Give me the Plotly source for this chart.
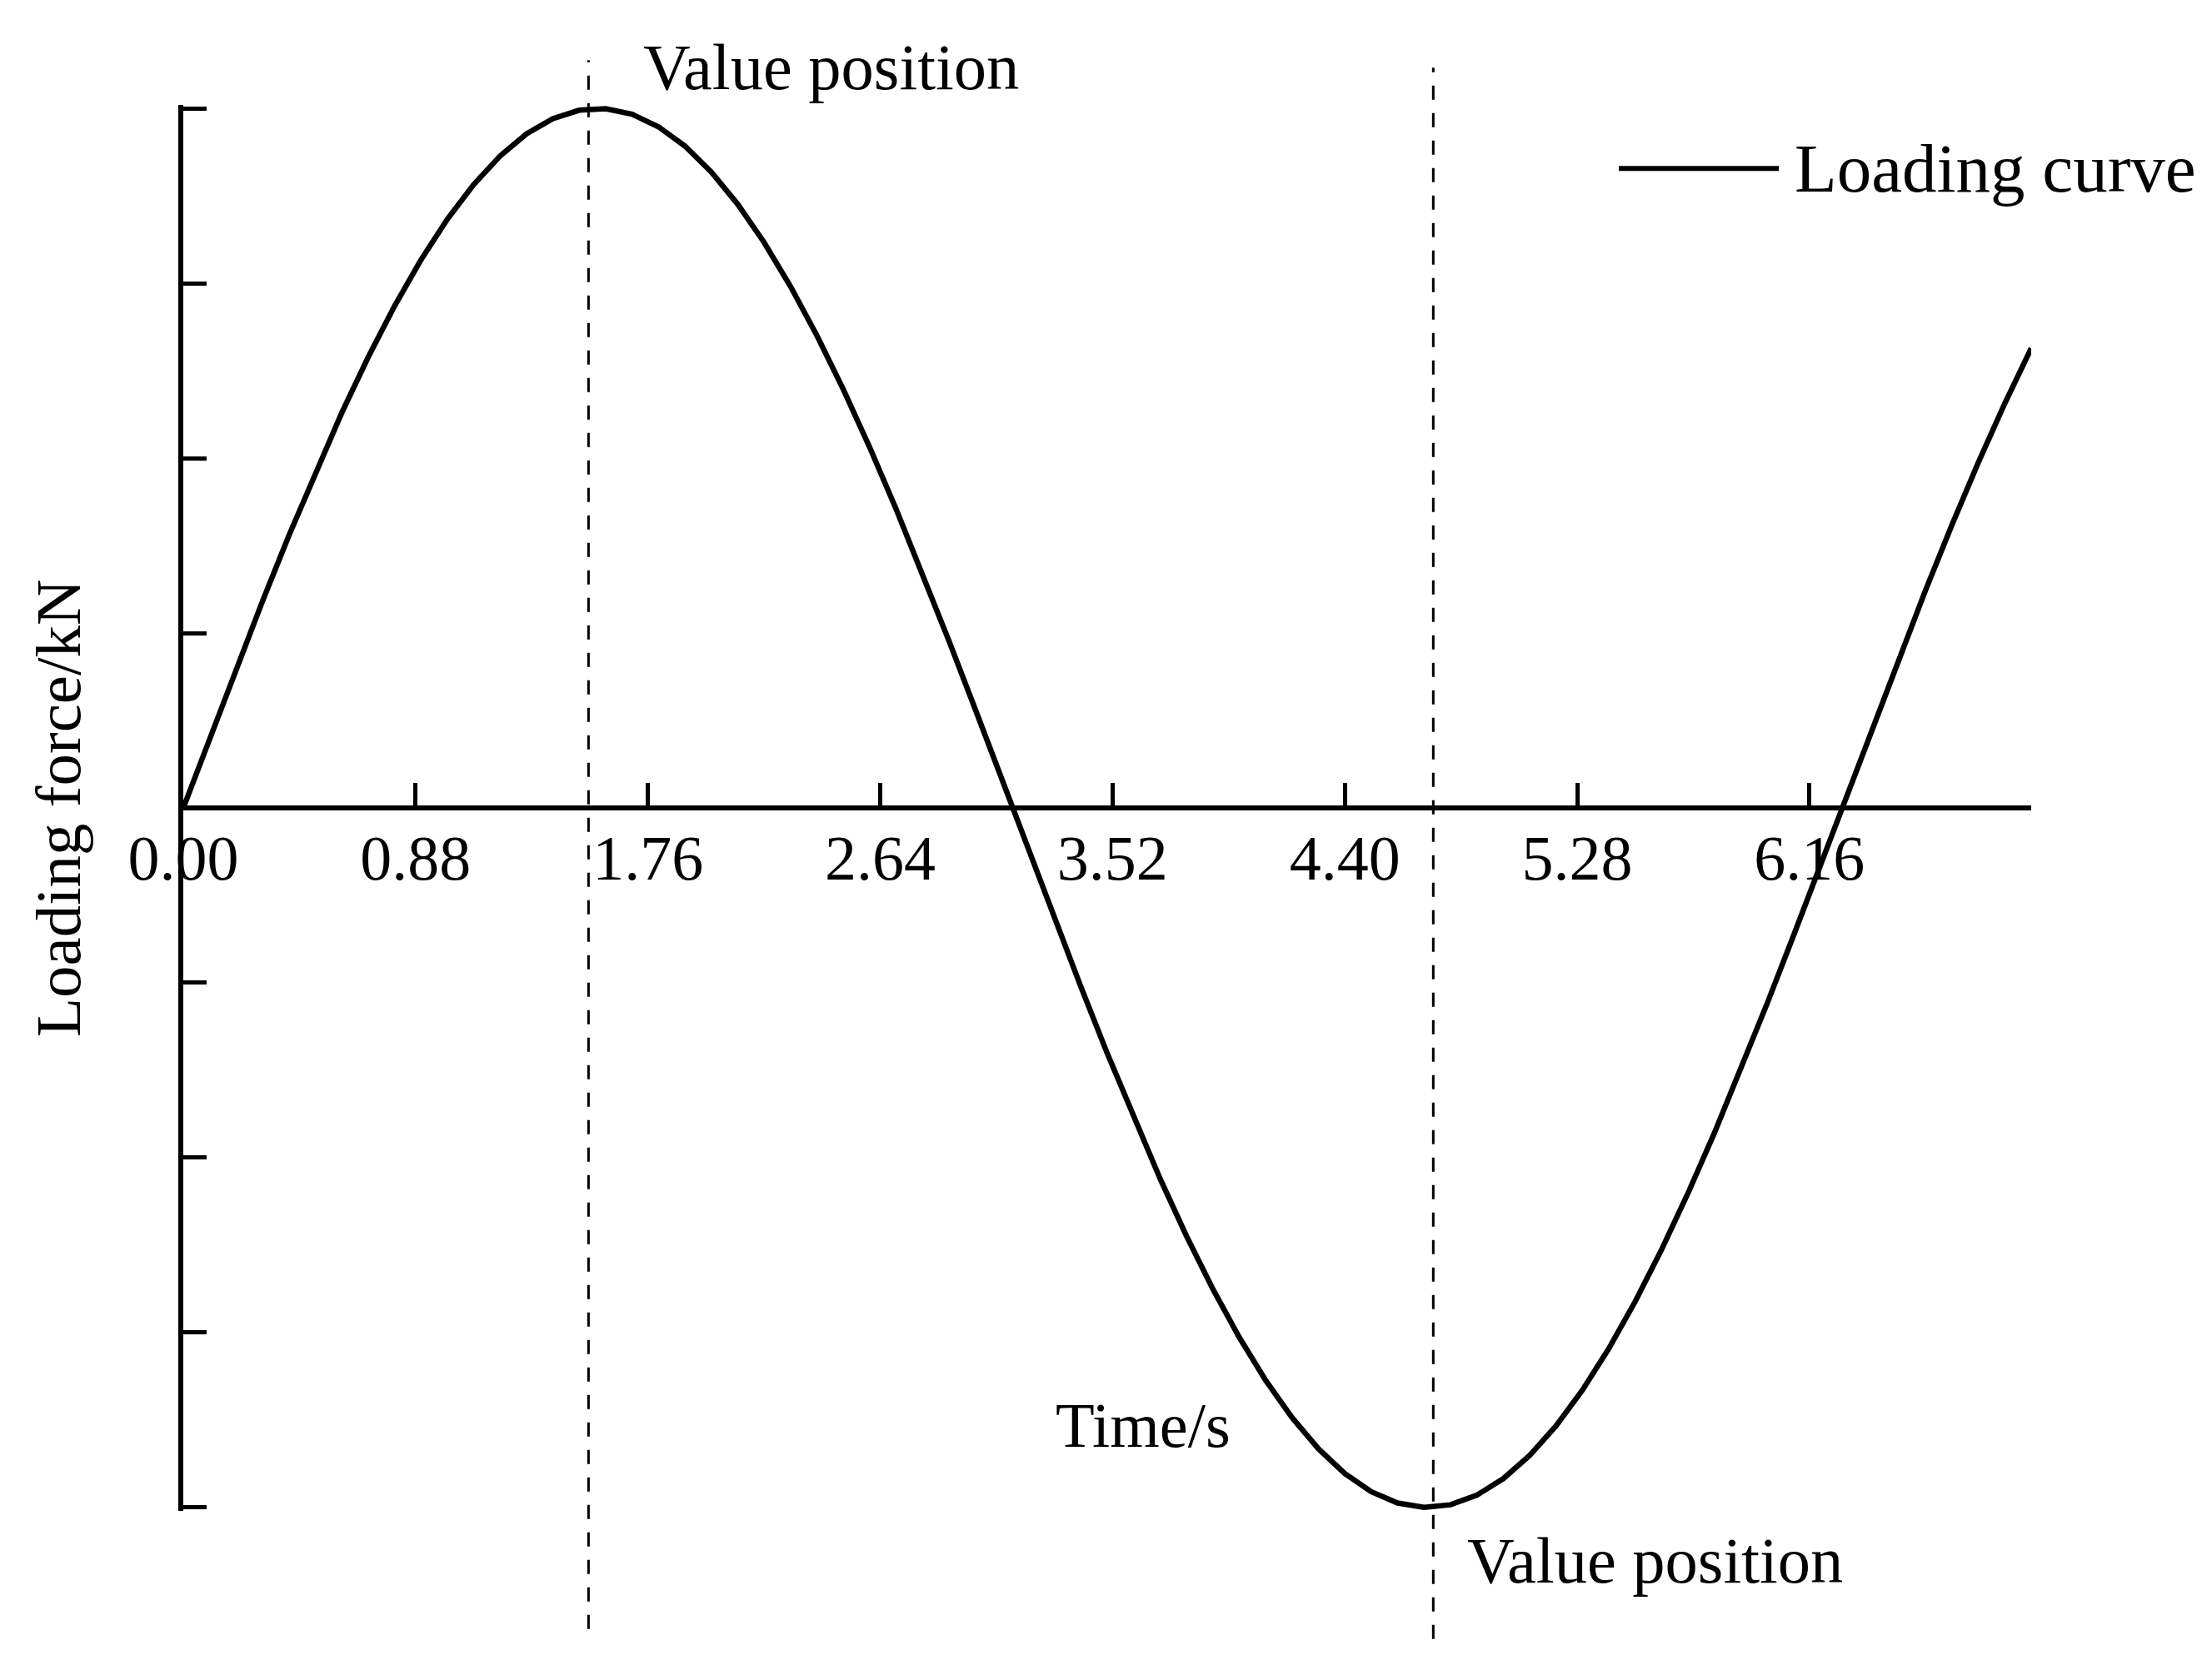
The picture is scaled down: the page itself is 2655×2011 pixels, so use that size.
import plotly.graph_objects as go

# ---- data ----
time_s = [0.0, 0.1, 0.2, 0.3, 0.4, 0.5, 0.6, 0.7, 0.8, 0.9,
          1.0, 1.1, 1.2, 1.3, 1.4, 1.5, 1.6, 1.7, 1.8, 1.9,
          2.0, 2.1, 2.2, 2.3, 2.4, 2.5, 2.6, 2.7, 2.8, 2.9,
          3.0, 3.1, 3.2, 3.3, 3.4, 3.5, 3.6, 3.7, 3.8, 3.9,
          4.0, 4.1, 4.2, 4.3, 4.4, 4.5, 4.6, 4.7, 4.8, 4.9,
          5.0, 5.1, 5.2, 5.3, 5.4, 5.5, 5.6, 5.7, 5.8, 5.9,
          6.0, 6.1, 6.2, 6.3, 6.4, 6.5, 6.6, 6.7, 6.8, 6.9, 7.0]
loading_force = [0.0, 0.0998, 0.1987, 0.2955, 0.3894, 0.4794, 0.5646, 0.6442, 0.7174, 0.7833,
                 0.8415, 0.8912, 0.9320, 0.9636, 0.9854, 0.9975, 0.9996, 0.9917, 0.9738, 0.9463,
                 0.9093, 0.8632, 0.8085, 0.7457, 0.6755, 0.5985, 0.5155, 0.4274, 0.3350, 0.2392,
                 0.1411, 0.0416, -0.0584, -0.1577, -0.2555, -0.3508, -0.4425, -0.5298, -0.6119, -0.6878,
                 -0.7568, -0.8183, -0.8716, -0.9162, -0.9516, -0.9775, -0.9937, -0.9999, -0.9962, -0.9825,
                 -0.9589, -0.9258, -0.8835, -0.8323, -0.7728, -0.7055, -0.6313, -0.5507, -0.4646, -0.3739,
                 -0.2794, -0.1822, -0.0831, 0.0168, 0.1165, 0.2151, 0.3115, 0.4048, 0.4941, 0.5784, 0.6570]
x_tick_vals = [0.0, 0.88, 1.76, 2.64, 3.52, 4.40, 5.28, 6.16]
x_tick_text = ["0.00", "0.88", "1.76", "2.64", "3.52", "4.40", "5.28", "6.16"]
y_tick_vals = [-1.0, -0.75, -0.5, -0.25, 0.0, 0.25, 0.5, 0.75, 1.0]
value_positions = [1.535, 4.735]

FONT = "Liberation Serif"
W, H = 2655, 2011
OFF = 8  # page body margin
# plot area in page pixels
PX0, PX1 = 220, 2438
PY0, PY1 = 125.8, 1814.2
L = PX0 - OFF
R = W - (PX1 - OFF)
T = PY0 - OFF
B = H - (PY1 - OFF)
PW, PH = PX1 - PX0, PY1 - PY0


def px_x(p):
    return (p - PX0) / PW


def px_y(p):
    return (PY1 - p) / PH


fig = go.Figure()
fig.add_trace(go.Scatter(x=time_s, y=loading_force, mode="lines",
                         line=dict(color="black", width=6.5),
                         name="Loading curve", showlegend=False))

# dashed "value position" lines
dash_ext = [(1956, 72), (1968, 81)]
for xv, (yb, yt) in zip(value_positions, dash_ext):
    fig.add_shape(type="line", xref="x", yref="paper", x0=xv, x1=xv,
                  y0=px_y(yb), y1=px_y(yt),
                  line=dict(color="black", width=3, dash="17px,16px"))

# legend sample line
fig.add_shape(type="line", xref="paper", yref="paper",
              x0=px_x(1943), x1=px_x(2135), y0=px_y(202), y1=px_y(202),
              line=dict(color="black", width=6))

annos = [
    dict(text="Loading curve", x=px_x(2152), y=px_y(202), size=83, angle=0, xa="left"),
    dict(text="Value position", x=px_x(770), y=px_y(80), size=78.5, angle=0, xa="left"),
    dict(text="Value position", x=px_x(1759), y=px_y(1874), size=78.5, angle=0, xa="left"),
    dict(text="Time/s", x=px_x(1265), y=px_y(1712), size=76.5, angle=0, xa="left"),
    dict(text="Loading force/kN", x=px_x(70), y=px_y(970), size=77, angle=-90, xa="center"),
]
for a in annos:
    fig.add_annotation(text=a["text"], xref="paper", yref="paper", x=a["x"], y=a["y"],
                       xanchor=a["xa"], yanchor="middle", showarrow=False,
                       textangle=a["angle"], font=dict(family=FONT, size=a["size"], color="black"))

fig.update_layout(
    width=W, height=H,
    margin=dict(l=L, r=R, t=T, b=B, pad=0),
    paper_bgcolor="white", plot_bgcolor="white",
    showlegend=False,
    font=dict(family=FONT, color="black"),
    xaxis=dict(range=[0, 7], anchor="free", position=0.5,
               showgrid=False, zeroline=False,
               showline=True, linecolor="black", linewidth=5.5,
               ticks="inside", ticklen=27, tickwidth=5, tickcolor="black",
               tickvals=x_tick_vals, ticktext=x_tick_text,
               tickfont=dict(family=FONT, size=76, color="black"),
               ticklabelstandoff=-8),
    yaxis=dict(range=[-1.005, 1.005], showgrid=False, zeroline=False,
               showline=True, linecolor="black", linewidth=5.5,
               ticks="inside", ticklen=28, tickwidth=5, tickcolor="black",
               tickvals=y_tick_vals, showticklabels=False),
)

fig.write_html("out.html")
